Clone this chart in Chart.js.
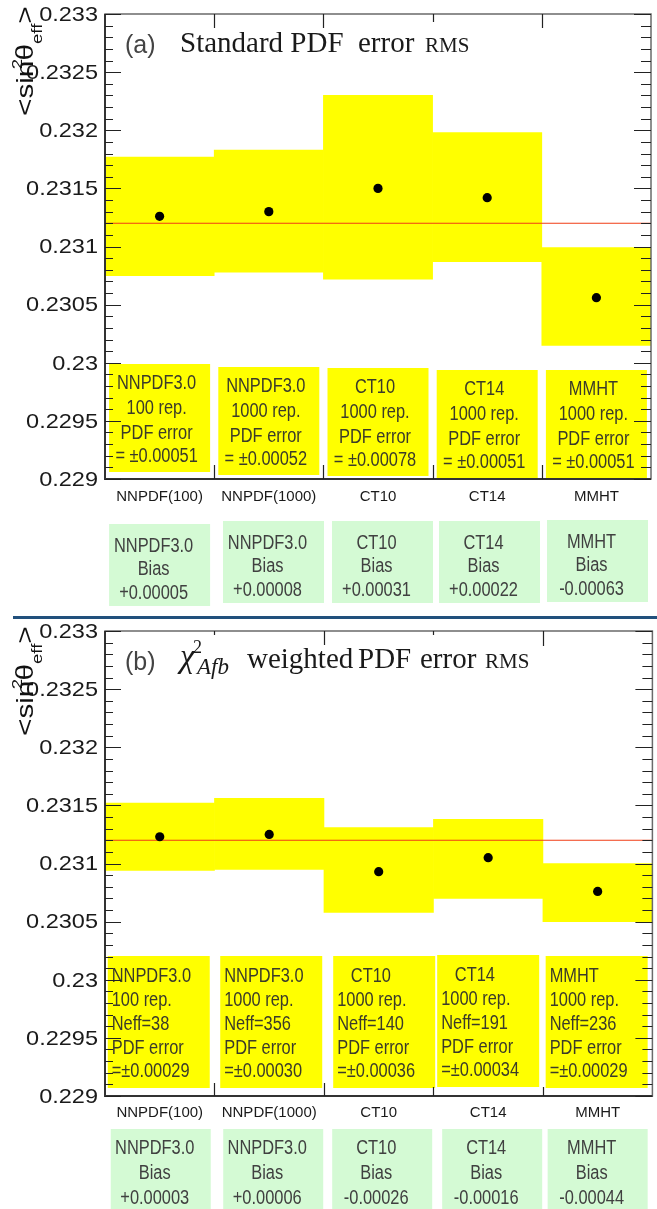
<!DOCTYPE html>
<html lang="en">
<head>
  <meta charset="UTF-8">
  <title>sin2theta_eff - PDF error RMS</title>
  <script src="https://cdn.jsdelivr.net/npm/chart.js"></script>
  <style>
    body { margin: 0; background: #fff; }
    .page { position: relative; width: 657px; height: 1209px; overflow: hidden; }
    .panel { position: absolute; left: 0; width: 657px; }
    #boxA { top: 0; height: 616px; }
    #boxB { top: 620px; height: 589px; }
    .sep { position: absolute; left: 13px; top: 616px; width: 644px; height: 3px; background: #21507c; }
  </style>
</head>
<body>
  <div class="page">
    <div class="panel" id="boxA"><canvas id="chartA"></canvas></div>
    <div class="sep"></div>
    <div class="panel" id="boxB"><canvas id="chartB"></canvas></div>
  </div>

  <script>
    const categories = ["NNPDF(100)", "NNPDF(1000)", "CT10", "CT14", "MMHT"];
    const yTickValues = [0.229, 0.2295, 0.23, 0.2305, 0.231, 0.2315, 0.232, 0.2325, 0.233];
    const yTickLabels = ["0.229", "0.2295", "0.23", "0.2305", "0.231", "0.2315", "0.232", "0.2325", "0.233"];
    const refValue = 0.2312;

    // (a) standard PDF error
    const centralA = [0.23126, 0.23130, 0.23150, 0.23142, 0.23056];
    const lowA = [0.23075, 0.23078, 0.23072, 0.23087, 0.23015];
    const highA = [0.23177, 0.23183, 0.23230, 0.23198, 0.23099];
    const infoA = [
      ["NNPDF3.0", "100 rep.", "PDF error", "= ±0.00051"],
      ["NNPDF3.0", "1000 rep.", "PDF error", "= ±0.00052"],
      ["CT10", "1000 rep.", "PDF error", "= ±0.00078"],
      ["CT14", "1000 rep.", "PDF error", "= ±0.00051"],
      ["MMHT", "1000 rep.", "PDF error", "= ±0.00051"]
    ];
    const biasA = [
      ["NNPDF3.0", "Bias", "+0.00005"],
      ["NNPDF3.0", "Bias", "+0.00008"],
      ["CT10", "Bias", "+0.00031"],
      ["CT14", "Bias", "+0.00022"],
      ["MMHT", "Bias", "-0.00063"]
    ];

    // (b) chi2(Afb) weighted
    const centralB = [0.23123, 0.23125, 0.23093, 0.23105, 0.23076];
    const lowB = [0.23094, 0.23095, 0.23058, 0.23070, 0.23050];
    const highB = [0.23152, 0.23156, 0.23131, 0.23138, 0.23100];
    const infoB = [
      ["NNPDF3.0", "100 rep.", "Neff=38", "PDF error", "=±0.00029"],
      ["NNPDF3.0", "1000 rep.", "Neff=356", "PDF error", "=±0.00030"],
      ["   CT10", "1000 rep.", "Neff=140", "PDF error", "=±0.00036"],
      ["   CT14", "1000 rep.", "Neff=191", "PDF error", "=±0.00034"],
      ["MMHT", "1000 rep.", "Neff=236", "PDF error", "=±0.00029"]
    ];
    const biasB = [
      ["NNPDF3.0", "Bias", "+0.00003"],
      ["NNPDF3.0", "Bias", "+0.00006"],
      ["CT10", "Bias", "-0.00026"],
      ["CT14", "Bias", "-0.00016"],
      ["MMHT", "Bias", "-0.00044"]
    ];

    const SANS = '"Liberation Sans", Arial, Helvetica, sans-serif';
    const SERIF = '"Liberation Serif", "Times New Roman", serif';
    const YELLOW = "#ffff00";
    const GREEN = "#d4fad4";

    function stretchText(ctx, txt, x, y, sx, align) {
      ctx.save();
      ctx.translate(x, y);
      ctx.scale(sx, 1);
      ctx.textAlign = align || "left";
      ctx.fillText(txt, 0, 0);
      ctx.restore();
    }

    function isMajor(v) {
      return yTickValues.some(t => Math.abs(t - v) < 1e-7);
    }

    function drawYTitle(ctx, x, y) {
      ctx.save();
      ctx.translate(x, y);
      ctx.rotate(-Math.PI / 2);
      ctx.scale(1.24, 1);
      ctx.fillStyle = "#111";
      ctx.textAlign = "left";
      ctx.textBaseline = "alphabetic";
      let t = 0;
      ctx.font = "24px " + SANS;
      ctx.fillText("<sin", t, 0);
      t += ctx.measureText("<sin").width;
      ctx.font = "15px " + SANS;
      ctx.fillText("2", t - 7, -11);
      ctx.font = "24px " + SANS;
      ctx.fillText("θ", t, 0);
      t += ctx.measureText("θ").width;
      ctx.font = "15px " + SANS;
      ctx.fillText("eff", t, 9);
      t += ctx.measureText("eff").width;
      ctx.font = "24px " + SANS;
      ctx.fillText(">", t, 0);
      ctx.restore();
    }

    function titleA(ctx, L, T) {
      ctx.fillStyle = "#444";
      ctx.font = "25px " + SANS;
      ctx.fillText("(a)", L + 20, T + 39);
      ctx.fillStyle = "#1a1a1a";
      ctx.font = "29px " + SERIF;
      ctx.fillText("Standard PDF", L + 75, T + 38);
      ctx.fillText("error", L + 253, T + 38);
      ctx.font = "21px " + SERIF;
      ctx.fillText("RMS", L + 320, T + 38);
    }

    function titleB(ctx, L, T) {
      ctx.fillStyle = "#444";
      ctx.font = "25px " + SANS;
      ctx.fillText("(b)", L + 20, T + 39);
      ctx.fillStyle = "#1a1a1a";
      ctx.font = "italic 33px " + SERIF;
      ctx.fillText("χ", L + 75, T + 36);
      ctx.font = "18px " + SERIF;
      ctx.fillText("2", L + 88, T + 22);
      ctx.font = "italic 23px " + SERIF;
      ctx.fillText("Afb", L + 92, T + 43);
      ctx.font = "29px " + SERIF;
      ctx.fillText("weighted", L + 142, T + 37);
      ctx.fillText("PDF", L + 253, T + 37);
      ctx.fillText("error", L + 315, T + 37);
      ctx.font = "21px " + SERIF;
      ctx.fillText("RMS", L + 380, T + 37);
    }

    function makeDecor(cfg) {
      return {
        id: "decor" + cfg.canvas,
        afterDatasetDraw(chart, args) {
          if (args.index !== 1) return;
          const { ctx, chartArea } = chart;
          const y = chart.scales.y.getPixelForValue(refValue);
          ctx.save();
          ctx.strokeStyle = "#f03c14";
          ctx.lineWidth = 1.2;
          ctx.beginPath();
          ctx.moveTo(chartArea.left, y);
          ctx.lineTo(chartArea.right, y);
          ctx.stroke();
          ctx.restore();
        },
        afterDatasetsDraw(chart) {
          const { ctx, chartArea } = chart;
          const xs = chart.scales.x, ys = chart.scales.y;
          const L = chartArea.left, R = chartArea.right, T = chartArea.top, B = chartArea.bottom;
          ctx.save();
          ctx.textBaseline = "alphabetic";

          // yellow info boxes
          const ib = cfg.infoBox;
          cfg.info.forEach((lines, i) => {
            const cx = xs.getPixelForValue(i) + ib.dx[i];
            const bx = cx - ib.width / 2, by = T + ib.top[i];
            ctx.fillStyle = YELLOW;
            ctx.fillRect(bx, by, ib.width, ib.height);
            ctx.fillStyle = "#3b3b2a";
            ctx.font = "20px " + SANS;
            lines.forEach((s, k) => {
              if (ib.align === "center") stretchText(ctx, s, cx + ib.shift, by + ib.lineY[k], 0.82, "center");
              else stretchText(ctx, s, bx + 4, by + ib.lineY[k], 0.82, "left");
            });
          });

          // green bias boxes below the axis
          const bb = cfg.biasBox;
          cfg.bias.forEach((lines, i) => {
            const cx = xs.getPixelForValue(i) + bb.dx[i];
            const bx = cx - bb.width / 2, by = B + bb.top[i];
            ctx.fillStyle = GREEN;
            ctx.fillRect(bx, by, bb.width, bb.height);
            ctx.fillStyle = "#404040";
            ctx.font = "20px " + SANS;
            lines.forEach((s, k) => stretchText(ctx, s, cx - 6, by + bb.lineY[k], 0.82, "center"));
          });

          // frame
          ctx.strokeStyle = "#6a6a6a";
          ctx.lineWidth = 1.5;
          ctx.strokeRect(L, T, R - L, B - T);
          ctx.strokeStyle = "#333";
          ctx.lineWidth = 2;
          ctx.beginPath();
          ctx.moveTo(L, T); ctx.lineTo(L, B); ctx.lineTo(R, B);
          ctx.stroke();

          // y ticks, inward on both sides
          ctx.strokeStyle = "#222";
          ctx.lineWidth = 1.2;
          ctx.beginPath();
          ys.ticks.forEach(t => {
            const p = Math.round(ys.getPixelForValue(t.value)) + 0.5;
            const major = isMajor(t.value);
            ctx.moveTo(L, p); ctx.lineTo(L + (major ? 16 : 8), p);
            ctx.moveTo(R, p); ctx.lineTo(R - (major ? 17 : 10), p);
          });
          // x ticks at category boundaries
          for (let i = 0; i < categories.length - 1; i++) {
            const p = Math.round((xs.getPixelForValue(i) + xs.getPixelForValue(i + 1)) / 2) + 0.5;
            ctx.moveTo(p, T); ctx.lineTo(p, T + cfg.topTicks[i]);
            ctx.moveTo(p, B); ctx.lineTo(p, B - cfg.bottomTicks[i]);
          }
          ctx.stroke();

          // y tick labels (wide Helvetica look)
          ctx.fillStyle = "#1a1a1a";
          ctx.font = "21px " + SANS;
          ctx.textBaseline = "middle";
          yTickValues.forEach((v, k) => {
            stretchText(ctx, yTickLabels[k], L - 7, ys.getPixelForValue(v) + 1, 1.12, "right");
          });
          ctx.textBaseline = "alphabetic";

          cfg.title(ctx, L, T);
          drawYTitle(ctx, 33, T + cfg.yTitleY);
          ctx.restore();
        }
      };
    }

    function buildChart(cfg) {
      const ctx = document.getElementById(cfg.canvas).getContext("2d");
      return new Chart(ctx, {
        type: "bar",
        data: {
          labels: categories,
          datasets: [
            {
              type: "line",
              label: "central",
              data: cfg.central,
              showLine: false,
              pointRadius: 4.6,
              pointHoverRadius: 4.6,
              pointBackgroundColor: "#000",
              pointBorderWidth: 0,
              order: 0
            },
            {
              type: "bar",
              label: "PDF error band",
              data: cfg.low.map((l, i) => [l, cfg.high[i]]),
              backgroundColor: YELLOW,
              borderWidth: 0,
              categoryPercentage: 1,
              barPercentage: 1,
              order: 1
            }
          ]
        },
        options: {
          responsive: true,
          maintainAspectRatio: false,
          animation: false,
          layout: { padding: cfg.padding },
          plugins: { legend: { display: false }, tooltip: { enabled: false } },
          scales: {
            x: {
              offset: true,
              grid: { display: false, drawTicks: false },
              border: { display: false },
              ticks: { font: { family: SANS, size: 15 }, color: "#1a1a1a", padding: cfg.labelPad, maxRotation: 0 },
              afterFit: s => { s.height = cfg.xAxisHeight; }
            },
            y: {
              min: 0.229,
              max: 0.233,
              grid: { display: false, drawTicks: false },
              border: { display: false },
              ticks: { stepSize: 0.0001, autoSkip: false, display: false },
              afterFit: s => { s.width = 105; }
            }
          }
        },
        plugins: [makeDecor(cfg)]
      });
    }

    buildChart({
      canvas: "chartA",
      central: centralA, low: lowA, high: highA, info: infoA, bias: biasA,
      padding: { top: 14, right: 6, left: 0, bottom: 0 },
      xAxisHeight: 137,
      labelPad: 9,
      infoBox: { top: [350, 353, 354, 356, 356], height: 108, width: 101, dx: [0, 0, 0, 0, 0], lineY: [25, 50, 75, 98], align: "center", shift: -3 },
      biasBox: { top: [45, 42, 42, 42, 41], height: 82, width: 101, dx: [0, 4.7, 4.5, 2.3, 1.1], lineY: [28, 51, 75] },
      topTicks: [14, 14, 8, 14],
      bottomTicks: [14, 14, 14, 14],
      yTitleY: 102,
      title: titleA
    });

    buildChart({
      canvas: "chartB",
      central: centralB, low: lowB, high: highB, info: infoB, bias: biasB,
      padding: { top: 11, right: 3, left: 0, bottom: 0 },
      xAxisHeight: 113,
      labelPad: 8,
      infoBox: { top: [325, 325, 325, 324, 325], height: 132, width: 102, dx: [-1, 2, 5.5, 0, -1], lineY: [26, 49.5, 74, 97.5, 121], align: "left", shift: 0 },
      biasBox: { top: [33, 33, 33, 33, 33], height: 82, width: 100, dx: [1, 4, 3.5, 4, 0], lineY: [25, 50, 75] },
      topTicks: [4, 14, 4, 15],
      bottomTicks: [13, 13, 9, 9],
      yTitleY: 105,
      title: titleB
    });
  </script>
</body>
</html>
